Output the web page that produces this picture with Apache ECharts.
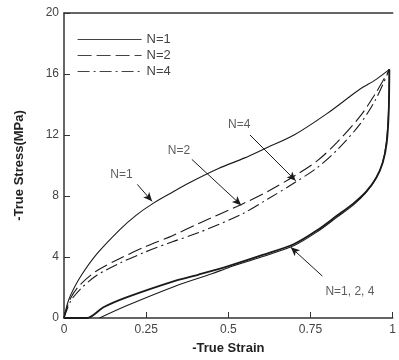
<!DOCTYPE html>
<html>
<head>
<meta charset="utf-8">
<script src="https://cdn.jsdelivr.net/npm/echarts@6/dist/echarts.min.js"></script>
<style>
  html, body { margin: 0; padding: 0; background: #fff; }
  #chart { width: 399px; height: 360px; }
</style>
</head>
<body>
<div id="chart"></div>
<script>
// x = -true strain, y = -true stress (MPa)
const loadN1 = [[0,0],[0.01,0.9],[0.02,1.5],[0.05,2.7],[0.1,4.2],[0.17,5.8],[0.22,6.75],[0.27,7.5],[0.33,8.25],[0.38,8.85],[0.47,9.8],[0.55,10.5],[0.61,11.1],[0.7,12.0],[0.8,13.4],[0.9,15.0],[0.95,15.65],[0.99,16.3]]
const loadN2 = [[0,0],[0.02,1.3],[0.05,2.2],[0.1,3.1],[0.17,3.9],[0.25,4.7],[0.33,5.4],[0.41,6.2],[0.54,7.45],[0.62,8.3],[0.7,9.3],[0.77,10.3],[0.83,11.5],[0.9,13.2],[0.95,14.8],[0.99,16.3]]
const loadN4 = [[0,0],[0.02,1.1],[0.05,1.9],[0.1,2.8],[0.17,3.6],[0.25,4.35],[0.33,5.0],[0.41,5.6],[0.54,6.8],[0.62,7.8],[0.7,8.85],[0.77,9.85],[0.83,11.0],[0.9,12.7],[0.95,14.4],[0.99,16.3]]
const unloadA = [[0.99,16.3],[0.988,13.5],[0.982,11.5],[0.97,10.2],[0.95,9.2],[0.92,8.3],[0.88,7.5],[0.83,6.7],[0.77,5.75],[0.7,4.85],[0.6,4.1],[0.5,3.4],[0.41,2.85],[0.34,2.45],[0.19,1.35],[0.12,0.7],[0.07,0],[0.03,0],[0,0]]
const unloadB = [[0.99,16.3],[0.987,13.4],[0.98,11.4],[0.968,10.1],[0.948,9.1],[0.918,8.2],[0.88,7.4],[0.83,6.6],[0.77,5.65],[0.7,4.75],[0.6,4.0],[0.5,3.3],[0.45,2.9],[0.34,2.1],[0.19,0.8],[0.108,0]]

const xTicks = [0, 0.25, 0.5, 0.75, 1]
const yTicks = [0, 4, 8, 12, 16, 20]

// annotation arrows: [from, to] and label positions
const arrows = [
  [[0.223,8.76],[0.268,7.65]],
  [[0.389,10.4],[0.539,7.4]],
  [[0.566,12.0],[0.705,9.0]],
  [[0.786,2.75],[0.69,4.64]]
]
const notes = [
  { name: 'N=1', value: [0.175,9.4] },
  { name: 'N=2', value: [0.35,11.0] },
  { name: 'N=4', value: [0.533,12.7] },
  { name: 'N=1, 2, 4', value: [0.87,1.7] }
]

const ink = '#1a1a1a'
const font = 'Liberation Sans'

const chart = echarts.init(document.getElementById('chart'))

const lineBase = {
  type: 'line',
  symbol: 'none',
  smooth: 0.3,
  silent: true,
  color: ink,
  animation: false
}

chart.setOption({
  animation: false,
  textStyle: { fontFamily: font },
  grid: { left: 64, right: 3, top: 13, bottom: 41 },
  legend: {
    data: ['N=1', 'N=2', 'N=4'],
    orient: 'vertical',
    left: 72,
    top: 28,
    itemWidth: 64,
    itemHeight: 14,
    itemGap: 3,
    itemStyle: { opacity: 0 },
    lineStyle: { width: 1.2, color: '#444' },
    textStyle: { fontFamily: font, fontSize: 13, color: '#444' }
  },
  xAxis: [{
    type: 'value',
    min: 0, max: 1, interval: 0.25,
    name: '-True Strain',
    nameLocation: 'middle',
    nameGap: 24,
    nameTextStyle: { fontFamily: font, fontSize: 13, fontWeight: 'bold', color: '#222' },
    axisLine: { lineStyle: { color: '#333', width: 1.5 } },
    axisTick: { inside: true, length: 6, lineStyle: { color: '#333' } },
    axisLabel: {
      color: '#444', fontSize: 12, margin: 6,
      formatter: v => xTicks.includes(v) ? String(v) : ''
    },
    splitLine: { show: false }
  }, {
    type: 'value', position: 'top', min: 0, max: 1,
    axisLine: { show: true, lineStyle: { color: '#333', width: 1.5 } },
    axisTick: { show: false }, axisLabel: { show: false }, splitLine: { show: false }
  }],
  yAxis: {
    type: 'value',
    min: 0, max: 20, interval: 4,
    name: '-True Stress(MPa)',
    nameLocation: 'middle',
    nameGap: 38,
    nameTextStyle: { fontFamily: font, fontSize: 13, fontWeight: 'bold', color: '#222' },
    axisLine: { show: true, lineStyle: { color: '#333', width: 1.5 } },
    axisTick: { inside: true, length: 6, lineStyle: { color: '#333' } },
    axisLabel: {
      color: '#444', fontSize: 12, margin: 5,
      formatter: v => yTicks.includes(v) ? String(v) : ''
    },
    splitLine: { show: false }
  },
  series: [
    { ...lineBase, name: 'N=1', data: loadN1, lineStyle: { color: ink, width: 1.1 } },
    { ...lineBase, name: 'N=2', data: loadN2, lineStyle: { color: ink, width: 1.1, type: [14, 5] } },
    { ...lineBase, name: 'N=4', data: loadN4, lineStyle: { color: ink, width: 1.1, type: [12, 4, 2, 4] } },
    { ...lineBase, name: 'unload-a', data: unloadA, lineStyle: { color: ink, width: 1.8 } },
    { ...lineBase, name: 'unload-b', data: unloadB, lineStyle: { color: ink, width: 1.1 } },
    {
      type: 'scatter',
      name: 'notes',
      symbolSize: 0,
      silent: true,
      data: notes,
      label: {
        show: true,
        position: 'inside',
        formatter: p => p.name,
        color: '#333',
        fontFamily: font,
        fontSize: 12
      },
      markLine: {
        silent: true,
        symbol: ['none', 'arrow'],
        symbolSize: [6, 9],
        label: { show: false },
        lineStyle: { color: ink, width: 1, type: 'solid' },
        data: arrows.map(a => [{ coord: a[0] }, { coord: a[1] }])
      }
    }
  ]
})
</script>
</body>
</html>
